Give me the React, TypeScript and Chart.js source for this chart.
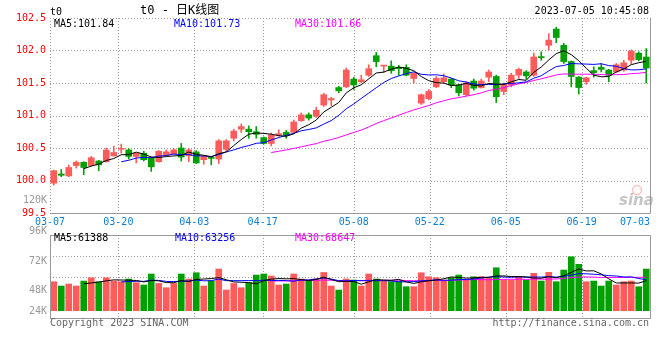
import React, { useEffect, useRef } from 'react';
import { Chart, registerables } from 'chart.js';

Chart.register(...registerables);

// ---------------- data ----------------
const dates = [
  '03-08','03-09','03-10','03-13','03-14','03-15','03-16','03-17','03-20','03-21','03-22','03-23','03-24','03-27','03-28','03-29','03-30','03-31',
  '04-03','04-04','04-06','04-07','04-10','04-11','04-12','04-13','04-14','04-17','04-18','04-19','04-20','04-21','04-24','04-25','04-26','04-27','04-28',
  '05-04','05-05','05-08','05-09','05-10','05-11','05-12','05-15','05-16','05-17','05-18','05-19','05-22','05-23','05-24','05-25','05-26','05-29','05-30','05-31',
  '06-01','06-02','06-05','06-06','06-07','06-08','06-09','06-12','06-13','06-14','06-15','06-16','06-19','06-20','06-21','06-26','06-27','06-28','06-29','06-30',
  '07-03','07-04','07-05',
];

const opens = [
  99.96, 100.10, 100.07, 100.23, 100.28, 100.23, 100.30, 100.29, 100.38, 100.48,
  100.47, 100.37, 100.42, 100.35, 100.29, 100.39, 100.41, 100.50, 100.38, 100.44,
  100.32, 100.35, 100.33, 100.48, 100.65, 100.79, 100.79, 100.75, 100.66, 100.57,
  100.70, 100.74, 100.74, 100.92, 101.01, 100.99, 101.16, 101.24, 101.43, 101.44,
  101.56, 101.52, 101.62, 101.92, 101.76, 101.76, 101.74, 101.74, 101.57, 101.19,
  101.26, 101.44, 101.52, 101.56, 101.47, 101.32, 101.53, 101.43, 101.59, 101.60,
  101.37, 101.47, 101.62, 101.67, 101.62, 101.90, 102.08, 102.33, 102.08, 101.83,
  101.59, 101.52, 101.69, 101.74, 101.70, 101.67, 101.70, 101.85, 101.96, 101.90,
];
const highs = [
  100.16, 100.17, 100.24, 100.30, 100.29, 100.37, 100.31, 100.50, 100.53, 100.56,
  100.49, 100.42, 100.45, 100.36, 100.46, 100.47, 100.49, 100.57, 100.49, 100.46,
  100.38, 100.36, 100.63, 100.63, 100.79, 100.87, 100.84, 100.83, 100.67, 100.73,
  100.78, 100.77, 100.93, 101.04, 101.04, 101.13, 101.34, 101.28, 101.45, 101.73,
  101.59, 101.62, 101.78, 101.97, 101.77, 101.84, 101.77, 101.78, 101.66, 101.33,
  101.40, 101.60, 101.64, 101.57, 101.48, 101.52, 101.56, 101.56, 101.70, 101.62,
  101.50, 101.65, 101.73, 101.69, 101.96, 101.98, 102.26, 102.36, 102.11, 101.84,
  101.60, 101.59, 101.75, 101.80, 101.71, 101.80, 101.85, 102.01, 101.98, 102.03,
];
const lows = [
  99.93, 100.06, 100.06, 100.19, 100.09, 100.22, 100.15, 100.28, 100.37, 100.42,
  100.33, 100.27, 100.30, 100.14, 100.28, 100.38, 100.40, 100.30, 100.29, 100.26,
  100.25, 100.24, 100.26, 100.45, 100.61, 100.74, 100.65, 100.65, 100.56, 100.53,
  100.68, 100.65, 100.73, 100.91, 100.93, 100.97, 101.14, 101.15, 101.35, 101.43,
  101.40, 101.50, 101.60, 101.75, 101.66, 101.65, 101.62, 101.61, 101.50, 101.17,
  101.24, 101.43, 101.50, 101.43, 101.30, 101.30, 101.39, 101.42, 101.52, 101.20,
  101.32, 101.44, 101.57, 101.56, 101.60, 101.85, 102.01, 102.12, 101.80, 101.44,
  101.33, 101.48, 101.59, 101.67, 101.52, 101.66, 101.68, 101.79, 101.84, 101.50,
];
const closes = [
  100.15, 100.08, 100.20, 100.28, 100.20, 100.35, 100.24, 100.47, 100.43, 100.49,
  100.37, 100.42, 100.32, 100.21, 100.45, 100.44, 100.47, 100.36, 100.47, 100.27,
  100.37, 100.34, 100.61, 100.61, 100.76, 100.83, 100.75, 100.71, 100.57, 100.70,
  100.72, 100.70, 100.90, 101.01, 100.96, 101.08, 101.32, 101.26, 101.38, 101.70,
  101.47, 101.55, 101.72, 101.83, 101.77, 101.69, 101.72, 101.62, 101.65, 101.32,
  101.37, 101.57, 101.58, 101.47, 101.35, 101.50, 101.42, 101.53, 101.67, 101.29,
  101.48, 101.62, 101.71, 101.61, 101.90, 101.89, 102.16, 102.20, 101.83, 101.60,
  101.43, 101.58, 101.66, 101.71, 101.62, 101.78, 101.81, 101.99, 101.86, 101.73,
];
const volumes = [
  59300, 50500, 54600, 50500, 60700, 67500, 59300, 67500, 60700, 59300,
  64800, 57300, 52600, 75100, 55800, 47000, 55800, 75100, 64800, 77700,
  50500, 60700, 85300, 42300, 55800, 47000, 57300, 73000, 75100, 71000,
  52600, 54600, 75100, 64800, 60700, 64800, 78300, 50500, 42300, 64800,
  62800, 50500, 75100, 64800, 60700, 59300, 60700, 49100, 49100, 77700,
  69500, 67500, 62800, 67500, 73000, 62800, 69500, 69500, 66300, 87900,
  62800, 62800, 69500, 62800, 76500, 60700, 78500, 59300, 83200, 110400,
  94900, 59300, 60700, 50500, 60700, 52600, 59300, 60700, 49100, 85300,
];

const xTickLabels = ['03-07', '03-20', '04-03', '04-17', '05-08', '05-22', '06-05', '06-19', '07-03'];
const xTickIdx = [-1, 8, 18, 27, 39, 49, 59, 69, 77];
const priceMin = 99.5;
const priceMax = 102.5;
const volMin = -15000;
const volMax = 155000;
const volAxisLabels = ['96K', '72K', '48K', '24K'];
const priceExtraLabel = '120K';
const priceMALabels = ['MA5:101.84', 'MA10:101.73', 'MA30:101.66'];
const volMALabels = ['MA5:61388', 'MA10:63256', 'MA30:68647'];
const maPeriods = [5, 10, 30];
const titleText = 't0 - 日K线图';
const symbolText = 't0';
const timeText = '2023-07-05 10:45:08';
const copyrightText = 'Copyright 2023 SINA.COM';
const urlText = 'http://finance.sina.com.cn';

// ---------------- styles ----------------
const MONO = '"DejaVu Sans Mono", "Liberation Mono", monospace';
const UP = '#ff5b5b';
const DOWN = '#00a000';
const MA_COLORS = ['#000000', '#0000ff', '#ff00ff'];
const GRID = '#9a9a9a';
const FRAME = '#999999';

function sma(arr: number[], n: number): (number | null)[] {
  return arr.map((_, i) => {
    if (i < n - 1) return null;
    let s = 0;
    for (let k = i - n + 1; k <= i; k++) s += arr[k];
    return s / n;
  });
}

const candleColors = closes.map((c, i) => (c >= opens[i] ? UP : DOWN));

function gridAxis() {
  return {
    type: 'linear' as const,
    position: 'bottom' as const,
    min: -1,
    max: 78,
    offset: false,
    afterBuildTicks: (s: any) => {
      s.ticks = xTickIdx.map((v) => ({ value: v }));
    },
    afterFit: (s: any) => {
      s.height = 0;
    },
    ticks: { display: false, autoSkip: false },
    grid: { display: false, offset: false, drawTicks: false },
    border: { display: false },
  };
}

// dotted grid drawn from the scales' own ticks
const dottedGrid = {
  id: 'dottedGrid',
  beforeDatasetsDraw(chart: any) {
    const ctx = chart.ctx as CanvasRenderingContext2D;
    const { left, right, top, bottom } = chart.chartArea;
    const y = chart.scales.y;
    const xg = chart.scales.xg;
    ctx.save();
    ctx.strokeStyle = GRID;
    ctx.lineWidth = 1;
    ctx.setLineDash([1, 2]);
    ctx.beginPath();
    y.ticks.forEach((t: any) => {
      const py = Math.round(y.getPixelForValue(t.value)) + 0.5;
      ctx.moveTo(left, py);
      ctx.lineTo(right, py);
    });
    xTickIdx.slice(0, -1).forEach((v) => {
      const px = Math.round(xg.getPixelForValue(v)) + 0.5;
      ctx.moveTo(px, top);
      ctx.lineTo(px, bottom);
    });
    ctx.stroke();
    ctx.restore();
  },
};

const priceOverlay = {
  id: 'priceOverlay',
  afterDraw(chart: any) {
    const ctx = chart.ctx as CanvasRenderingContext2D;
    const { left, right, top, bottom } = chart.chartArea;
    ctx.save();
    ctx.strokeStyle = FRAME;
    ctx.lineWidth = 1;
    ctx.beginPath();
    ctx.moveTo(Math.round(right) + 0.5, top);
    ctx.lineTo(Math.round(right) + 0.5, Math.round(bottom) + 0.5);
    ctx.moveTo(left, Math.round(bottom) + 0.5);
    ctx.lineTo(Math.round(right) + 0.5, Math.round(bottom) + 0.5);
    ctx.stroke();

    ctx.textBaseline = 'middle';
    const xg = chart.scales.xg;
    ctx.font = `10px ${MONO}`;
    ctx.fillStyle = '#0a7fd8';
    ctx.textAlign = 'left';
    xTickLabels.forEach((lab, k) => {
      const w = ctx.measureText(lab).width;
      let x = xg.getPixelForValue(xTickIdx[k]) - w / 2;
      x = Math.min(x, right - w);
      ctx.fillText(lab, x, bottom + 9);
    });

    ctx.fillStyle = '#000';
    ctx.fillText(symbolText, left, 12);
    ctx.font = `12px ${MONO}, "Noto Sans CJK SC"`;
    ctx.fillText(titleText, 140, 11);
    ctx.font = `10px ${MONO}`;
    ctx.textAlign = 'right';
    ctx.fillText(timeText, right - 1, 11.5);

    ctx.textAlign = 'left';
    const maX = [left + 4, left + 124, left + 245];
    priceMALabels.forEach((t, k) => {
      ctx.fillStyle = MA_COLORS[k];
      ctx.fillText(t, maX[k], top + 6);
    });

    ctx.textAlign = 'right';
    ctx.fillStyle = '#999';
    ctx.fillText(priceExtraLabel, left - 3, bottom - 13);

    ctx.textAlign = 'left';
    ctx.font = 'italic bold 15px "DejaVu Sans", sans-serif';
    ctx.fillStyle = 'rgba(150,150,150,0.55)';
    ctx.fillText('sina', right - 31, bottom - 12);
    ctx.strokeStyle = 'rgba(255,120,120,0.45)';
    ctx.lineWidth = 1.5;
    ctx.beginPath();
    ctx.arc(right - 13, bottom - 23, 4.5, 0, Math.PI * 2);
    ctx.stroke();
    ctx.restore();
  },
};

const volOverlay = {
  id: 'volOverlay',
  afterDraw(chart: any) {
    const ctx = chart.ctx as CanvasRenderingContext2D;
    const { left, right, top, bottom } = chart.chartArea;
    ctx.save();
    ctx.strokeStyle = FRAME;
    ctx.lineWidth = 1;
    const l = Math.round(left) + 0.5;
    const r = Math.round(right) + 0.5;
    const t = Math.round(top) + 0.5;
    const b = Math.round(bottom) + 0.5;
    ctx.beginPath();
    ctx.moveTo(l, t);
    ctx.lineTo(r, t);
    ctx.lineTo(r, b);
    ctx.lineTo(l, b);
    ctx.closePath();
    ctx.stroke();

    ctx.textBaseline = 'middle';
    ctx.font = `10px ${MONO}`;
    ctx.textAlign = 'right';
    ctx.fillStyle = '#999';
    const labY = [top - 4, top + 26, top + 55, top + 76];
    volAxisLabels.forEach((s, k) => ctx.fillText(s, left - 3, labY[k]));

    ctx.textAlign = 'left';
    const maX = [left + 4, left + 125, left + 245];
    volMALabels.forEach((s, k) => {
      ctx.fillStyle = MA_COLORS[k];
      ctx.fillText(s, maX[k], top + 3.5);
    });

    ctx.fillStyle = '#666';
    ctx.fillText(copyrightText, left, bottom + 5);
    ctx.textAlign = 'right';
    ctx.fillText(urlText, right - 1, bottom + 5);
    ctx.restore();
  },
};

function baseOptions(padding: any, y: any) {
  return {
    responsive: false,
    animation: false,
    devicePixelRatio: 1,
    events: [],
    layout: { padding },
    plugins: { legend: { display: false }, tooltip: { enabled: false } },
    scales: {
      x: { type: 'category', display: false, offset: true },
      xg: gridAxis(),
      y,
    },
  };
}

function maLines(src: number[]) {
  return maPeriods.map((p, k) => ({
    type: 'line',
    data: sma(src, p),
    borderColor: MA_COLORS[k],
    borderWidth: 1,
    pointRadius: 0,
    tension: 0,
    xAxisID: 'x',
    yAxisID: 'y',
    order: 0,
  }));
}

function priceConfig(): any {
  return {
    type: 'bar',
    data: {
      labels: dates,
      datasets: [
        ...maLines(closes),
        {
          type: 'bar',
          data: opens.map((o, i) => [o, closes[i]]),
          backgroundColor: candleColors,
          borderWidth: 0,
          barThickness: 6,
          minBarLength: 1,
          grouped: false,
          xAxisID: 'x',
          yAxisID: 'y',
          order: 1,
        },
        {
          type: 'bar',
          data: lows.map((lo, i) => [lo, highs[i]]),
          backgroundColor: candleColors,
          borderWidth: 0,
          barThickness: 1,
          grouped: false,
          xAxisID: 'x',
          yAxisID: 'y',
          order: 2,
        },
      ],
    },
    options: baseOptions(
      { left: 0, right: 10, top: 18, bottom: 147 },
      {
        type: 'linear',
        position: 'left',
        min: priceMin,
        max: priceMax,
        afterFit: (s: any) => {
          s.width = 50;
        },
        ticks: {
          count: 7,
          padding: 4,
          color: '#ff0000',
          font: { family: MONO, size: 10 },
          callback: (v: any) => Number(v).toFixed(1),
        },
        grid: { display: false, drawTicks: false },
        border: { display: false },
      }
    ),
    plugins: [dottedGrid, priceOverlay],
  };
}

function volConfig(): any {
  return {
    type: 'bar',
    data: {
      labels: dates,
      datasets: [
        ...maLines(volumes),
        {
          type: 'bar',
          data: volumes,
          backgroundColor: candleColors,
          borderWidth: 0,
          barThickness: 6,
          grouped: false,
          xAxisID: 'x',
          yAxisID: 'y',
          order: 1,
        },
      ],
    },
    options: baseOptions(
      { left: 0, right: 10, top: 235, bottom: 42 },
      {
        type: 'linear',
        position: 'left',
        min: volMin,
        max: volMax,
        afterFit: (s: any) => {
          s.width = 50;
        },
        ticks: { display: false, count: 5 },
        grid: { display: false, drawTicks: false },
        border: { display: false },
      }
    ),
    plugins: [dottedGrid, volOverlay],
  };
}

export default function App() {
  const priceRef = useRef<HTMLCanvasElement>(null);
  const volRef = useRef<HTMLCanvasElement>(null);
  useEffect(() => {
    const pc = new Chart(priceRef.current as HTMLCanvasElement, priceConfig());
    const vc = new Chart(volRef.current as HTMLCanvasElement, volConfig());
    return () => {
      pc.destroy();
      vc.destroy();
    };
  }, []);
  return (
    <div style={{ position: 'fixed', left: 0, top: 0, width: 660, height: 360, background: '#fff' }}>
      <canvas ref={priceRef} width={660} height={360} style={{ position: 'absolute', left: 0, top: 0 }} />
      <canvas ref={volRef} width={660} height={360} style={{ position: 'absolute', left: 0, top: 0 }} />
    </div>
  );
}
